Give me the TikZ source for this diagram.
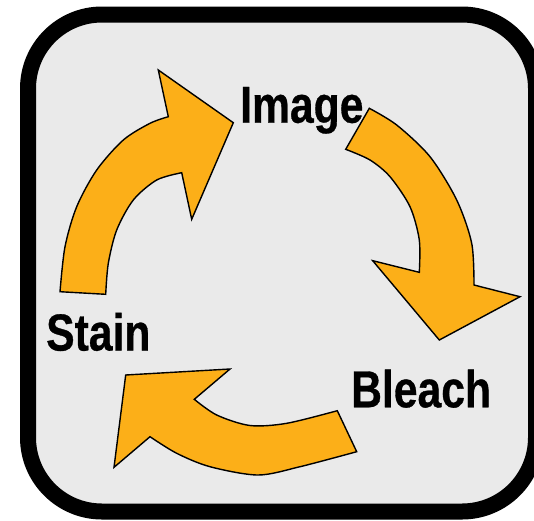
\documentclass[tikz,border=0pt]{standalone}
\usepackage{fontspec}
\newfontfamily\labelfont[FakeStretch=0.82, BoldFeatures={FakeBold=0.6}]{Liberation Sans}
\definecolor{panelgray}{RGB}{234,234,234}
\definecolor{cycleorange}{RGB}{252,175,24}

\begin{document}
\begin{tikzpicture}[x=1pt, y=-1pt,
  cyclearrow/.style={draw=black, line width=1.4pt, fill=cycleorange, line join=miter},
  phase/.style={font=\labelfont\bfseries\fontsize{52}{60}\selectfont, inner sep=0pt, anchor=base west},
]
\useasboundingbox (0,0) rectangle (534,520);
\draw[line width=16pt, rounded corners=74pt, fill=panelgray] (28,14.5) rectangle (536,511.5);

% Stain -> Image
\draw[cyclearrow] plot[smooth] coordinates {(60,291.7) (65,246.7) (76.7,206.7) (96.7,170) (123.3,140) (150,123.3) (168.3,116.7)}
  -- (158.3,70) -- (233.3,122.7) -- (191.7,219.3) -- (181.7,172.7)
  -- plot[smooth] coordinates {(181.7,172.7) (156.7,180) (133.3,200) (116.7,230) (108.3,263.3) (105.7,294.3)} -- cycle;
% Image -> Bleach
\draw[cyclearrow] plot[smooth] coordinates {(369.3,108.3) (396.7,125) (430,156.7) (456.7,200) (471.7,243.3) (474,285)}
  -- (520,296.7) -- (439.3,340) -- (372.7,260.7) -- (419.3,272.3)
  -- plot[smooth] coordinates {(419.3,272.3) (419.3,240) (410,206.7) (390,176.7) (370,160) (345.7,149.3)} -- cycle;
% Bleach -> Stain
\draw[cyclearrow] plot[smooth] coordinates {(356.7,451.7) (300,466.7) (258,475) (210,466.7) (176.7,453.3) (150,436.7)}
  -- (114,467.3) -- (125.7,375) -- (230,369) -- (194.3,399.3)
  -- plot[smooth] coordinates {(194.3,399.3) (216.7,415) (250,425.5) (286.7,423.3) (337.3,410.7)} -- cycle;

\node[phase] (image) at (240,122.7) {Image};
\node[phase] (stain) at (46,350.5) {Stain};
\node[phase] (bleach) at (351,407.3) {Bleach};
\end{tikzpicture}
\end{document}
